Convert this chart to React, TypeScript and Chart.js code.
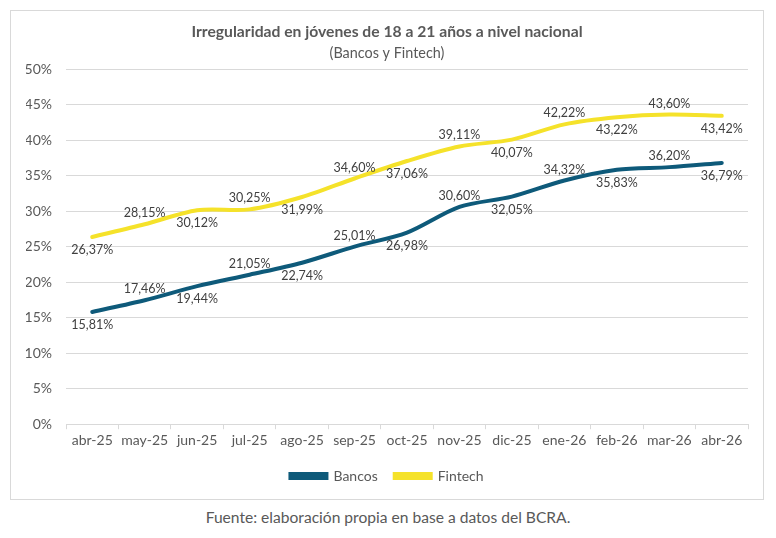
import React, { useEffect, useRef } from 'react';
import { Chart, registerables } from 'chart.js';

Chart.register(...registerables);

const categories = ['abr-25', 'may-25', 'jun-25', 'jul-25', 'ago-25', 'sep-25', 'oct-25', 'nov-25', 'dic-25', 'ene-26', 'feb-26', 'mar-26', 'abr-26'];
const bancos = [15.81, 17.46, 19.44, 21.05, 22.74, 25.01, 26.98, 30.6, 32.05, 34.32, 35.83, 36.2, 36.79];
const fintech = [26.37, 28.15, 30.12, 30.25, 31.99, 34.6, 37.06, 39.11, 40.07, 42.22, 43.22, 43.6, 43.42];
const yMin = 0;
const yMax = 50;
const yStep = 5;

const FONT = 'Lato, "Open Sans", sans-serif';
const GREY = '#595959';

const fmt = (v: number) => v.toFixed(2).replace('.', ',') + '%';

const labelPlugin = {
  id: 'pointLabels',
  afterDatasetsDraw(chart: any) {
    const ctx = chart.ctx;
    ctx.save();
    ctx.font = `12.5px ${FONT}`;
    ctx.fillStyle = '#404040';
    ctx.textAlign = 'center';
    ctx.textBaseline = 'middle';
    chart.data.datasets.forEach((ds: any, di: number) => {
      const meta = chart.getDatasetMeta(di);
      meta.data.forEach((el: any, i: number) => {
        const above = i % 2 === 1;
        const y = el.y + (above ? -11 : 13);
        ctx.fillText(fmt(ds.data[i]), el.x, y);
      });
    });
    ctx.restore();
  },
};

export default function App() {
  const ref = useRef<HTMLCanvasElement | null>(null);
  useEffect(() => {
    if (!ref.current) return;
    const chart = new Chart(ref.current, {
      type: 'line',
      data: {
        labels: categories,
        datasets: [
          {
            label: 'Bancos',
            data: bancos,
            borderColor: '#0E5A7A',
            backgroundColor: '#0E5A7A',
            borderWidth: 4,
            pointRadius: 0,
            tension: 0.3,
            borderCapStyle: 'round',
          },
          {
            label: 'Fintech',
            data: fintech,
            borderColor: '#F5E22A',
            backgroundColor: '#F5E22A',
            borderWidth: 4,
            pointRadius: 0,
            tension: 0.3,
            borderCapStyle: 'round',
          },
        ],
      },
      options: {
        animation: false,
        responsive: false,
        maintainAspectRatio: false,
        layout: { padding: { left: 15, right: 15, top: 0, bottom: 6 } },
        plugins: {
          title: {
            display: true,
            text: 'Irregularidad en jóvenes de 18 a 21 años a nivel nacional',
            color: GREY,
            font: { family: FONT, size: 15.7, weight: 'bold', lineHeight: 1.2 },
            padding: { top: 12, bottom: 3 },
          },
          subtitle: {
            display: true,
            text: '(Bancos y Fintech)',
            color: GREY,
            font: { family: FONT, size: 14.4, lineHeight: 1.2 },
            padding: { top: 0, bottom: 7 },
          },
          legend: {
            position: 'bottom',
            labels: {
              color: GREY,
              font: { family: FONT, size: 14 },
              boxWidth: 36,
              boxHeight: 4,
              padding: 17,
            },
          },
          tooltip: { enabled: false },
        },
        scales: {
          x: {
            offset: true,
            grid: { offset: true, drawOnChartArea: false, drawTicks: true, tickLength: 5, color: '#d9d9d9' },
            border: { display: true, color: '#d9d9d9' },
            ticks: { color: GREY, font: { family: FONT, size: 14 }, padding: 3, maxRotation: 0, autoSkip: false },
          },
          y: {
            min: yMin,
            max: yMax,
            grid: { color: '#d9d9d9', drawTicks: false },
            border: { display: false },
            ticks: {
              stepSize: yStep,
              color: GREY,
              font: { family: FONT, size: 14 },
              padding: 14,
              callback: (v: any) => v + '%',
            },
            afterFit: (scale: any) => {
              scale.width = 40;
            },
          },
        },
      },
      plugins: [labelPlugin],
    });
    return () => chart.destroy();
  }, []);

  return (
    <div>
      <div style={{ width: 752, height: 488, border: '1px solid #d9d9d9', marginLeft: 2, marginTop: 2, background: '#fff' }}>
        <canvas ref={ref} width={752} height={488} style={{ display: 'block' }} />
      </div>
      <div style={{ textAlign: 'center', fontFamily: FONT, fontSize: 15.6, color: GREY, marginTop: 8, lineHeight: '18px' }}>
        Fuente: elaboración propia en base a datos del BCRA.
      </div>
    </div>
  );
}
